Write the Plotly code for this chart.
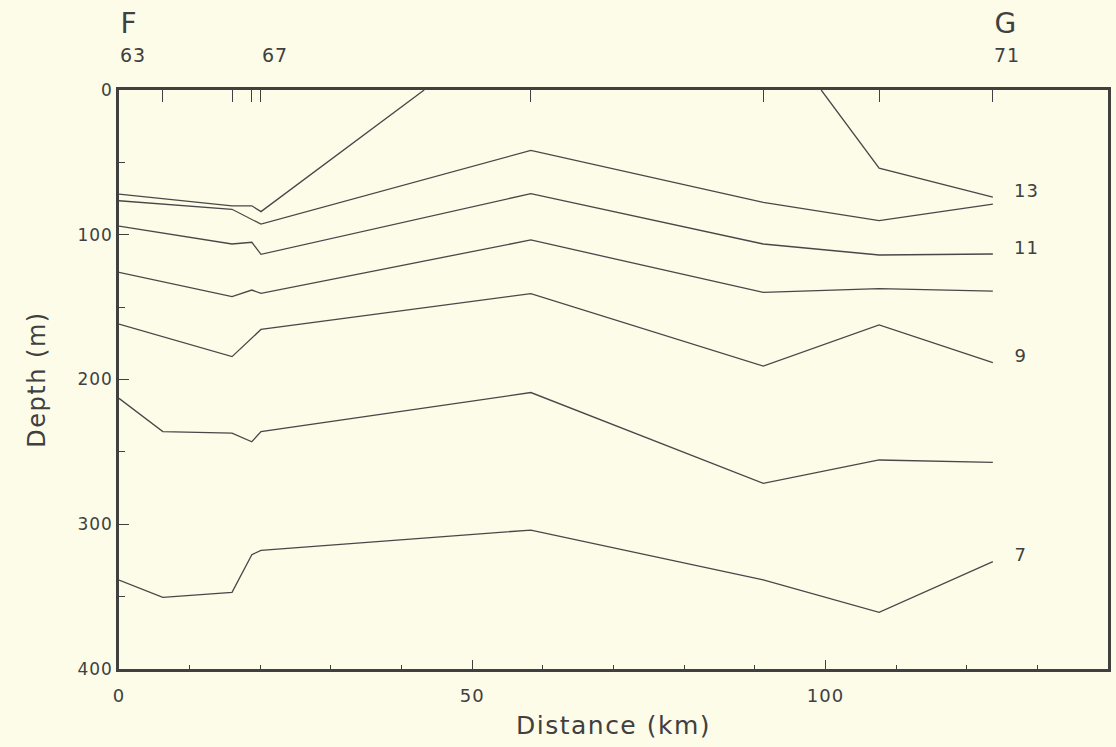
import plotly.graph_objects as go

# Station positions along the section (km) and their numbers
STATION_DIST = [0, 6.2, 16.0, 18.8, 20.1, 58.3, 91.2, 107.6, 123.7]
STATION_NUM = [63, 64, 65, 66, 67, 68, 69, 70, 71]
LABELLED_STATIONS = [63, 67, 71]
SECTION_ENDS = {63: "F", 71: "G"}

# Isotherm depths (m)
T13_X = [0, 16.0, 18.8, 20.1, 43.2, None, 99.4, 107.6, 123.7]
T13_Y = [72, 80, 80, 84, 0, None, 0, 54, 74]
T12_X = [0, 16.0, 20.1, 58.3, 91.2, 107.6, 123.7]
T12_Y = [76.5, 82.4, 92.7, 41.7, 77.6, 90.3, 78.8]
T11_X = [0, 16.0, 18.8, 20.1, 58.3, 91.2, 107.6, 123.7]
T11_Y = [94, 106.4, 105.2, 113.5, 71.6, 106.4, 114, 113.3]
T10_X = [0, 16.0, 18.8, 20.1, 58.3, 91.2, 107.6, 123.7]
T10_Y = [126, 142.8, 138.2, 140.5, 103.6, 139.8, 137.2, 138.9]
T9_X = [0, 16.0, 20.1, 58.3, 91.2, 107.6, 123.7]
T9_Y = [161.7, 184.2, 165.4, 140.7, 190.8, 162.3, 188.4]
T8_X = [0, 6.2, 16.0, 18.8, 20.1, 58.3, 91.2, 107.6, 123.7]
T8_Y = [213, 236, 237, 243, 236, 209, 271.7, 255.6, 257.2]
T7_X = [0, 6.2, 16.0, 18.8, 20.1, 58.3, 91.2, 107.6, 123.7]
T7_Y = [338.5, 350.5, 347, 321, 318, 304, 338.5, 360.9, 325.8]

ISOTHERMS = [(13, T13_X, T13_Y), (12, T12_X, T12_Y), (11, T11_X, T11_Y),
             (10, T10_X, T10_Y), (9, T9_X, T9_Y), (8, T8_X, T8_Y), (7, T7_X, T7_Y)]
LABELLED = [13, 11, 9, 7]

BG = "#fcfce9"
INK = "#404040"
FONT = "DejaVu Sans"

fig = go.Figure()
for t, xs, ys in ISOTHERMS:
    fig.add_trace(go.Scatter(x=xs, y=ys, mode="lines", name=f"{t}",
                             line=dict(color="#484848", width=1.3),
                             showlegend=False, hoverinfo="skip"))
    if t in LABELLED:
        fig.add_annotation(x=xs[-1], y=ys[-1], text=str(t), showarrow=False,
                           xanchor="left", yanchor="middle", xshift=20, yshift=7,
                           font=dict(family=FONT, size=18, color=INK))

# invisible trace on top axis to carry station ticks
fig.add_trace(go.Scatter(x=STATION_DIST, y=[None] * len(STATION_DIST), xaxis="x2",
                         mode="lines", showlegend=False, hoverinfo="skip"))

for d, n in zip(STATION_DIST, STATION_NUM):
    if n in LABELLED_STATIONS:
        fig.add_annotation(x=d, y=1.06, xref="x", yref="paper", text=str(n),
                           showarrow=False, xanchor="left", yanchor="middle",
                           font=dict(family=FONT, size=19, color=INK))
    if n in SECTION_ENDS:
        fig.add_annotation(x=d, y=1.115, xref="x", yref="paper", text=SECTION_ENDS[n],
                           showarrow=False, xanchor="left", yanchor="middle",
                           font=dict(family=FONT, size=28, color=INK))

fig.update_layout(
    width=1116, height=747,
    margin=dict(l=119, r=5, t=90, b=78),
    paper_bgcolor=BG, plot_bgcolor=BG,
    font=dict(family=FONT, color=INK),
    xaxis=dict(range=[0, 140], tickvals=[0, 50, 100], ticks="inside", ticklen=9,
               tickcolor=INK, tickwidth=1.2, ticklabelstandoff=9,
               minor=dict(dtick=10, ticks="inside", ticklen=4, tickcolor=INK),
               showgrid=False, zeroline=False, showline=True, linewidth=2.5,
               linecolor=INK, mirror=True,
               tickfont=dict(family=FONT, size=18, color=INK),
               title=dict(text="Distance (km)", standoff=12,
                          font=dict(family=FONT, size=25, color=INK))),
    xaxis2=dict(range=[0, 140], overlaying="x", side="top", tickvals=STATION_DIST,
                ticks="inside", ticklen=12, tickcolor=INK, tickwidth=1.2,
                showticklabels=False, showgrid=False, zeroline=False, showline=False),
    yaxis=dict(range=[400, 0], tickvals=[0, 100, 200, 300, 400], ticks="inside",
               ticklen=10, tickcolor=INK, tickwidth=1.2,
               minor=dict(dtick=50, ticks="inside", ticklen=6, tickcolor=INK),
               showgrid=False, zeroline=False, showline=True, linewidth=2.5,
               linecolor=INK, mirror=True,
               tickfont=dict(family=FONT, size=17, color=INK),
               title=dict(text="Depth (m)", standoff=28,
                          font=dict(family=FONT, size=24, color=INK))),
)

post = """
document.body.style.margin = '0px';
document.body.style.background = '%s';
document.querySelectorAll('.xtitle, .ytitle').forEach(function(t){ t.style.letterSpacing = '1.5px'; });
document.querySelectorAll('.xtick text, .ytick text, .annotation-text').forEach(function(t){ t.style.letterSpacing = '1px'; });
""" % BG

fig.write_html("out.html", post_script=post, config={"displayModeBar": False})
